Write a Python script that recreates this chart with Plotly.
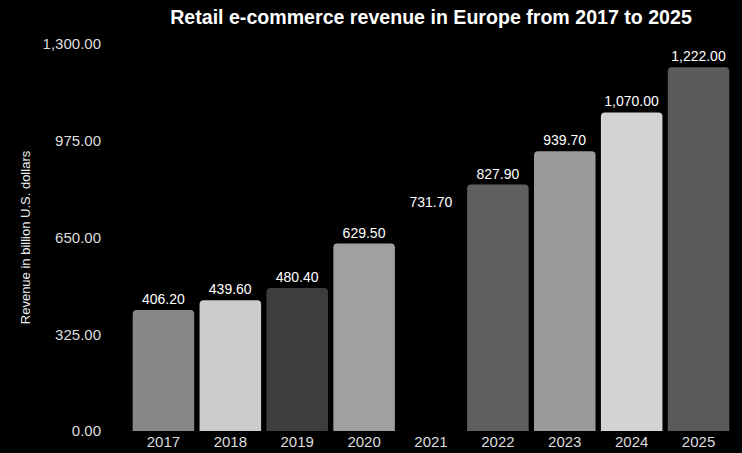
import plotly.graph_objects as go

years = ["2017", "2018", "2019", "2020", "2021", "2022", "2023", "2024", "2025"]
revenue = [406.2, 439.6, 480.4, 629.5, 731.7, 827.9, 939.7, 1070.0, 1222.0]
bar_colors = ["#878787", "#cccccc", "#3d3d3d", "#a0a0a0", "#000000",
              "#5f5f5f", "#9a9a9a", "#d4d4d4", "#5a5a5a"]
y_ticks = [0, 325, 650, 975, 1300]

fig = go.Figure(
    go.Bar(
        x=years,
        y=revenue,
        marker=dict(color=bar_colors, line=dict(width=0)),
        texttemplate="%{y:,.2f}",
        textposition="outside",
        textfont=dict(color="#ffffff", size=14, family="Liberation Sans, Arial, sans-serif"),
        cliponaxis=False,
        hoverinfo="skip",
    )
)

fig.update_layout(
    width=742,
    height=453,
    paper_bgcolor="#000000",
    plot_bgcolor="#000000",
    margin=dict(l=130, r=10, t=44, b=22, autoexpand=False),
    bargap=0.08,
    barcornerradius=4,
    showlegend=False,
    font=dict(family="Liberation Sans, Arial, sans-serif", color="#dddddd"),
    title=dict(
        text="<b>Retail e-commerce revenue in Europe from 2017 to 2025</b>",
        x=0.5,
        xref="paper",
        xanchor="center",
        y=0.962,
        yanchor="middle",
        font=dict(size=19.6, color="#ffffff"),
    ),
    xaxis=dict(
        showgrid=False,
        showline=False,
        zeroline=False,
        ticks="",
        automargin=False,
        tickfont=dict(size=15, color="#dddddd"),
        ticklabelstandoff=0,
    ),
    yaxis=dict(
        range=[0, 1300],
        tickvals=y_ticks,
        tickformat=",.2f",
        showgrid=False,
        zeroline=False,
        showline=False,
        ticks="",
        automargin=False,
        tickfont=dict(size=15, color="#dddddd"),
        ticklabelstandoff=28,
        title=dict(text="Revenue in billion U.S. dollars", font=dict(size=13, color="#eeeeee"), standoff=9),
    ),
)

fig.write_html("out.html")
